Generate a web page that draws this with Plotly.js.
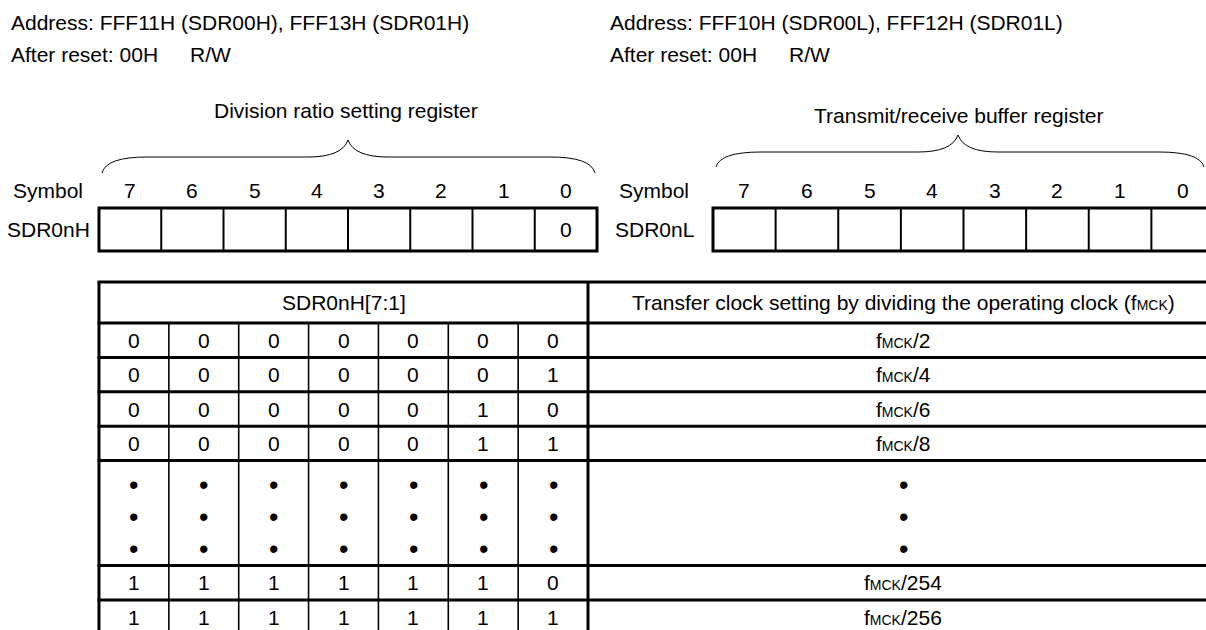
<!DOCTYPE html>
<html><head><meta charset="utf-8">
<script src="https://cdn.plot.ly/plotly-3.0.1.min.js"></script>
<style>html,body{margin:0;padding:0;background:#fff;overflow:hidden}</style>
</head><body><div id="chart" style="width:1206px;height:630px"></div>
<script>
// ---------------- data ----------------
const addressTexts = ["Address: FFF11H (SDR00H), FFF13H (SDR01H)", "Address: FFF10H (SDR00L), FFF12H (SDR01L)"];
const resetTexts = ["After reset: 00H", "After reset: 00H"];
const accessTexts = ["R/W", "R/W"];
const registerTitles = ["Division ratio setting register", "Transmit/receive buffer register"];
const registerSymbols = ["SDR0nH", "SDR0nL"];
const bitNumbers = ["7", "6", "5", "4", "3", "2", "1", "0"];
const registerHValues = ["", "", "", "", "", "", "", "0"];
const registerLValues = ["", "", "", "", "", "", "", ""];
const tableBitsHeader = "SDR0nH[7:1]";
const tableDescHeader = "Transfer clock setting by dividing the operating clock (f<MCK>)";
const clockName = "MCK";
const settingsTop = [
  ["0", "0", "0", "0", "0", "0", "0"],
  ["0", "0", "0", "0", "0", "0", "1"],
  ["0", "0", "0", "0", "0", "1", "0"],
  ["0", "0", "0", "0", "0", "1", "1"]
];
const divisorsTop = ["2", "4", "6", "8"];
const settingsBottom = [
  ["1", "1", "1", "1", "1", "1", "0"],
  ["1", "1", "1", "1", "1", "1", "1"]
];
const divisorsBottom = ["254", "256"];
const ellipsisMark = "•";
const ellipsisCount = 3;

// ---------------- layout (geometry & style) ----------------
const W = 1206, H = 630;
const FONT = "Liberation Sans, Arial, sans-serif";
const FS = 21;
const SMALL = 14;
const DOT_FS = 27;
const THICK = 3, THIN = 1.6;
const regs = [
  {x0: 99, x1: 597, sym: 11, symReg: 5, addrX: 9, accX: 188, titleX: 346, title: 110,
   brace: {x0: 102, x1: 595, xc: 348, yEnd: 173, yH: 157, yPeak: 140}},
  {x0: 713, x1: 1214, sym: 617, symReg: 613, addrX: 608, accX: 787, titleX: 958, title: 115,
   brace: {x0: 716, x1: 1204, xc: 958, yEnd: 167, yH: 152, yPeak: 135}}
];
const regY0 = 208, regY1 = 251, bitLabelY = 190, addrY = 22, resetY = 54;
const T = {x0: 99, xDiv: 588, x1: 1218, top: 282, headBot: 323, rowH: 34.4,
           dotBlock: 105, dotFirst: 24.5, dotStep: 32};

const shapes = [], ann = [];
function txt(x, y, text, anchor, size) {
  ann.push({x: x, y: y, xref: 'x', yref: 'y', text: text, showarrow: false,
    xanchor: anchor || 'center', yanchor: 'middle',
    font: {family: FONT, size: size || FS, color: '#000'}});
}
function line(x0, y0, x1, y1, w) {
  shapes.push({type: 'line', xref: 'x', yref: 'y', x0: x0, y0: y0, x1: x1, y1: y1,
    line: {color: '#000', width: w}});
}
function fmck(s) {
  return "f<span style='font-size:" + SMALL + "px'>" + clockName + "</span>" + s;
}

// register headers
regs.forEach((r, k) => {
  txt(r.addrX, addrY, addressTexts[k], 'left');
  txt(r.addrX, resetY, resetTexts[k], 'left');
  txt(r.accX, resetY, accessTexts[k], 'left');
  txt(r.titleX, r.title, registerTitles[k], 'center');
  const b = r.brace;
  const path = `M ${b.x0},${b.yEnd} Q ${b.x0 + 4},${b.yH} ${b.x0 + 45},${b.yH} L ${b.xc - 40},${b.yH} ` +
    `Q ${b.xc - 6},${b.yH} ${b.xc},${b.yPeak} Q ${b.xc + 6},${b.yH} ${b.xc + 40},${b.yH} ` +
    `L ${b.x1 - 45},${b.yH} Q ${b.x1 - 4},${b.yH} ${b.x1},${b.yEnd}`;
  shapes.push({type: 'path', xref: 'x', yref: 'y', path: path, line: {color: '#000', width: 1}});
  txt(r.sym, bitLabelY, "Symbol", 'left');
  txt(r.symReg, (regY0 + regY1) / 2, registerSymbols[k], 'left');
  const cw = (r.x1 - r.x0) / bitNumbers.length;
  const vals = k === 0 ? registerHValues : registerLValues;
  bitNumbers.forEach((bn, i) => {
    const cx = r.x0 + cw * (i + 0.5);
    txt(cx, bitLabelY, bn);
    if (vals[i]) txt(cx, (regY0 + regY1) / 2, vals[i]);
    if (i > 0) line(r.x0 + cw * i, regY0, r.x0 + cw * i, regY1, 2);
  });
  shapes.push({type: 'rect', xref: 'x', yref: 'y', x0: r.x0, x1: r.x1, y0: regY0, y1: regY1,
    line: {color: '#000', width: THICK}});
});

// table
const nb = settingsTop[0].length;
const bw = (T.xDiv - T.x0) / nb;
const descX = (T.xDiv + T.x1) / 2;
let y = T.headBot;
const hLines = [T.top, T.headBot];
txt((T.x0 + T.xDiv) / 2, (T.top + T.headBot) / 2, tableBitsHeader);
txt(descX, (T.top + T.headBot) / 2, tableDescHeader.replace("f<MCK>", fmck("")));
function addRow(bits, div) {
  bits.forEach((v, i) => txt(T.x0 + bw * (i + 0.5), y + T.rowH / 2, v));
  txt(descX, y + T.rowH / 2, fmck("/" + div));
  y += T.rowH; hLines.push(y);
}
settingsTop.forEach((b, i) => addRow(b, divisorsTop[i]));
for (let d = 0; d < ellipsisCount; d++) {
  const yy = y + T.dotFirst + T.dotStep * d;
  for (let i = 0; i < nb; i++) txt(T.x0 + bw * (i + 0.5), yy, ellipsisMark, 'center', DOT_FS);
  txt(descX, yy, ellipsisMark, 'center', DOT_FS);
}
y += T.dotBlock; hLines.push(y);
settingsBottom.forEach((b, i) => addRow(b, divisorsBottom[i]));
const bottom = y;
hLines.forEach(h => line(T.x0 - 1.5, h, T.x1, h, THICK));
line(T.x0, T.top, T.x0, bottom, THICK);
line(T.xDiv, T.top, T.xDiv, bottom, THICK);
for (let i = 1; i < nb; i++) line(T.x0 + bw * i, T.headBot, T.x0 + bw * i, bottom, THIN);

Plotly.newPlot('chart', [], {
  width: W, height: H, margin: {l: 0, r: 0, t: 0, b: 0},
  paper_bgcolor: '#fff', plot_bgcolor: '#fff', showlegend: false,
  xaxis: {range: [0, W], visible: false, fixedrange: true},
  yaxis: {range: [H, 0], visible: false, fixedrange: true},
  shapes: shapes, annotations: ann
}, {staticPlot: true, displayModeBar: false});
</script></body></html>
